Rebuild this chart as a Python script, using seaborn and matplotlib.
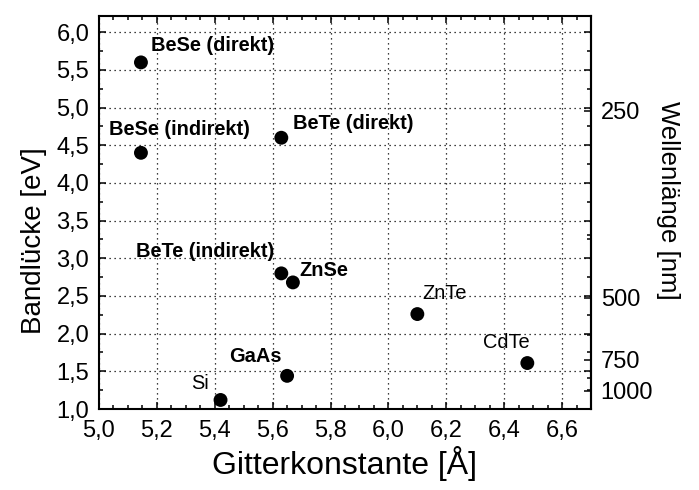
import matplotlib
matplotlib.use("Agg")
import matplotlib.pyplot as plt
from matplotlib.ticker import MultipleLocator, FixedLocator, NullFormatter, FuncFormatter
import pandas as pd
import seaborn as sns

# Semiconductor data: lattice constant (Å) and band gap (eV)
materials = ["BeSe (direkt)", "BeSe (indirekt)", "BeTe (direkt)", "BeTe (indirekt)",
             "ZnSe", "ZnTe", "CdTe", "GaAs", "Si"]
lattice = [5.145, 5.145, 5.63, 5.63, 5.67, 6.10, 6.48, 5.65, 5.42]
bandgap = [5.60, 4.40, 4.60, 2.80, 2.68, 2.26, 1.61, 1.44, 1.12]
bold_label = [True, True, True, True, True, False, False, True, False]

# Wavelength ticks for the secondary axis (nm)
wavelength_major = [250, 500, 750, 1000]
wavelength_minor = [375, 625, 875]

# Label placement: (dx, dy) in points, horizontal alignment
label_style = {
    "BeSe (direkt)": (7, 12.5, "left"),
    "BeSe (indirekt)": (-23, 17, "left"),
    "BeTe (direkt)": (8.4, 10.3, "left"),
    "BeTe (indirekt)": (-5.3, 15.8, "right"),
    "ZnSe": (5, 8.9, "left"),
    "ZnTe": (3.8, 15, "left"),
    "CdTe": (1.7, 15.1, "right"),
    "GaAs": (-4.3, 13.9, "right"),
    "Si": (-8.2, 12, "right"),
}

df = pd.DataFrame({"material": materials, "a": lattice, "Eg": bandgap, "bold": bold_label})

sns.set_style("ticks")
plt.rcParams["font.family"] = ["Liberation Sans", "DejaVu Sans"]
plt.rcParams["text.color"] = "black"
plt.rcParams["axes.labelcolor"] = "black"

fig = plt.figure(figsize=(6.99, 4.90), dpi=100)
ax = fig.add_axes([0.1416, 0.1653, 0.7039, 0.8027])

sns.scatterplot(data=df, x="a", y="Eg", ax=ax, color="black", s=100,
                edgecolor="none", legend=False, zorder=3)

for _, row in df.iterrows():
    dx, dy, ha = label_style[row["material"]]
    ax.annotate(row["material"], (row["a"], row["Eg"]), xytext=(dx, dy),
                textcoords="offset points", ha=ha, va="center", fontsize=14.4,
                fontweight="bold" if row["bold"] else "normal", color="black")

ax.set_xlim(5.0, 6.7)
ax.set_ylim(1.0, 6.22)

comma = FuncFormatter(lambda v, p: f"{v:.1f}".replace(".", ","))
ax.xaxis.set_major_locator(MultipleLocator(0.2))
ax.xaxis.set_minor_locator(MultipleLocator(0.05))
ax.yaxis.set_major_locator(MultipleLocator(0.5))
ax.yaxis.set_minor_locator(MultipleLocator(0.25))
ax.xaxis.set_major_formatter(comma)
ax.yaxis.set_major_formatter(comma)

ax.grid(True, which="major", color="black", linestyle=(0, (1, 3)), linewidth=0.9)

for sp in ax.spines.values():
    sp.set_linewidth(1.5)
    sp.set_color("black")

ax.tick_params(which="both", direction="in", top=True, right=True, width=1.1,
               color="black", labelsize=17, labelcolor="black")
ax.tick_params(which="major", length=5)
ax.tick_params(which="minor", length=3)
ax.tick_params(axis="y", which="major", pad=7)
ax.tick_params(axis="x", which="major", pad=8)

ax.set_xlabel("Gitterkonstante [Å]", fontsize=23, labelpad=3)
ax.set_ylabel("Bandlücke [eV]", fontsize=20, labelpad=7)
ax.yaxis.label.set_y(0.427)

# Secondary axis: photon wavelength corresponding to the band gap energy
HC = 1239.84
secax = ax.secondary_yaxis("right", functions=(lambda e: HC / e, lambda l: HC / l))
secax.set_yticks(wavelength_major)
secax.yaxis.set_minor_locator(FixedLocator(wavelength_minor))
secax.yaxis.set_minor_formatter(NullFormatter())
secax.yaxis.set_major_formatter(FuncFormatter(lambda v, p: f"{v:.0f}"))
secax.spines["right"].set_linewidth(1.5)
secax.tick_params(which="both", direction="in", width=1.1, color="black",
                  labelsize=17, labelcolor="black", pad=7)
secax.tick_params(which="major", length=5)
secax.tick_params(which="minor", length=3)
secax.set_ylabel("Wellenlänge [nm]", fontsize=18.5, rotation=270, labelpad=19)
secax.yaxis.label.set_y(0.531)

fig.savefig("out.png", dpi=100)
